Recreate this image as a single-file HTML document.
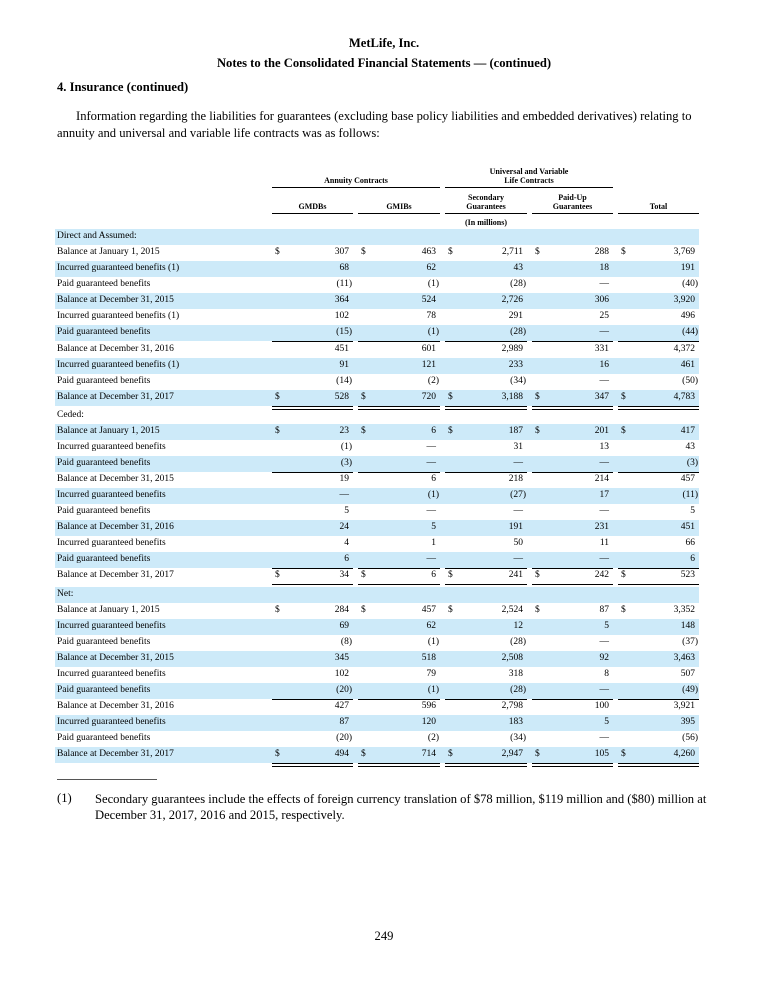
<!DOCTYPE html>
<html><head><meta charset="utf-8">
<style>
body{margin:0;width:768px;height:993px;background:#fff;font-family:"Liberation Serif",serif;color:#000;position:relative;overflow:hidden}
.a{position:absolute;white-space:nowrap}
.b{font-weight:bold}
.t{font-size:9.5px}
.h{font-size:8px;font-weight:bold;text-align:center;line-height:9px}
.ln{position:absolute;height:1px;background:#000}
.row{position:absolute;left:55px;width:644px;height:16px}
</style></head><body>
<div class="a b" style="left:0;width:768px;text-align:center;top:36px;font-size:12.6px">MetLife, Inc.</div>
<div class="a b" style="left:0;width:768px;text-align:center;top:56px;font-size:12.6px">Notes to the Consolidated Financial Statements — (continued)</div>
<div class="a b" style="left:57px;top:80px;font-size:12.6px">4. Insurance (continued)</div>
<div class="a" style="left:57px;top:108px;font-size:12.6px;line-height:16.5px;white-space:normal;width:658px;text-indent:19px">Information regarding the liabilities for guarantees (excluding base policy liabilities and embedded derivatives) relating to annuity and universal and variable life contracts was as follows:</div>

<div id="tbl">
<div class="a h" style="left:272px;width:168px;top:176px">Annuity Contracts</div>
<div class="ln" style="left:272px;width:168px;top:187px"></div>
<div class="a h" style="left:445px;width:168px;top:167px">Universal and Variable<br>Life Contracts</div>
<div class="ln" style="left:445px;width:168px;top:187px"></div>
<div class="a h" style="left:272px;width:81px;top:202px">GMDBs</div>
<div class="a h" style="left:358px;width:82px;top:202px">GMIBs</div>
<div class="a h" style="left:445px;width:82px;top:193px">Secondary<br>Guarantees</div>
<div class="a h" style="left:532px;width:81px;top:193px">Paid-Up<br>Guarantees</div>
<div class="a h" style="left:618px;width:81px;top:202px">Total</div>
<div class="ln" style="left:272px;width:81px;top:213px"></div>
<div class="ln" style="left:358px;width:82px;top:213px"></div>
<div class="ln" style="left:445px;width:82px;top:213px"></div>
<div class="ln" style="left:532px;width:81px;top:213px"></div>
<div class="ln" style="left:618px;width:81px;top:213px"></div>
<div class="a h" style="left:445px;width:82px;top:218px">(In millions)</div>
</div>

<div class="ln" style="left:57px;width:100px;top:779px;background:#555"></div>
<div class="a" style="left:57px;top:791px;font-size:12.6px">(1)</div>
<div class="a" style="left:95px;top:791px;font-size:12.6px;line-height:16px;white-space:normal;width:625px">Secondary guarantees include the effects of foreign currency translation of $78 million, $119 million and ($80) million at December 31, 2017, 2016 and 2015, respectively.</div>
<div class="a" style="left:0;width:768px;text-align:center;top:929px;font-size:12.6px">249</div>

<script>
const labels=["Direct and Assumed:","Balance at January 1, 2015","Incurred guaranteed benefits (1)","Paid guaranteed benefits","Balance at December 31, 2015","Incurred guaranteed benefits (1)","Paid guaranteed benefits","Balance at December 31, 2016","Incurred guaranteed benefits (1)","Paid guaranteed benefits","Balance at December 31, 2017",
"Ceded:","Balance at January 1, 2015","Incurred guaranteed benefits","Paid guaranteed benefits","Balance at December 31, 2015","Incurred guaranteed benefits","Paid guaranteed benefits","Balance at December 31, 2016","Incurred guaranteed benefits","Paid guaranteed benefits","Balance at December 31, 2017",
"Net:","Balance at January 1, 2015","Incurred guaranteed benefits","Paid guaranteed benefits","Balance at December 31, 2015","Incurred guaranteed benefits","Paid guaranteed benefits","Balance at December 31, 2016","Incurred guaranteed benefits","Paid guaranteed benefits","Balance at December 31, 2017"];
const gmdb=[null,"307","68","(11)","364","102","(15)","451","91","(14)","528",null,"23","(1)","(3)","19","—","5","24","4","6","34",null,"284","69","(8)","345","102","(20)","427","87","(20)","494"];
const gmib=[null,"463","62","(1)","524","78","(1)","601","121","(2)","720",null,"6","—","—","6","(1)","—","5","1","—","6",null,"457","62","(1)","518","79","(1)","596","120","(2)","714"];
const secondary=[null,"2,711","43","(28)","2,726","291","(28)","2,989","233","(34)","3,188",null,"187","31","—","218","(27)","—","191","50","—","241",null,"2,524","12","(28)","2,508","318","(28)","2,798","183","(34)","2,947"];
const paidup=[null,"288","18","—","306","25","—","331","16","—","347",null,"201","13","—","214","17","—","231","11","—","242",null,"87","5","—","92","8","—","100","5","—","105"];
const total=[null,"3,769","191","(40)","3,920","496","(44)","4,372","461","(50)","4,783",null,"417","43","(3)","457","(11)","5","451","66","6","523",null,"3,352","148","(37)","3,463","507","(49)","3,921","395","(56)","4,260"];
const cols=[gmdb,gmib,secondary,paidup,total];
const colL=[272,358,445,532,618], colR=[353,440,527,613,699];
const tbl=document.getElementById('tbl');
let y=229;
labels.forEach((lab,i)=>{
  const r=document.createElement('div');
  r.className='row';
  
  
  r.style.top=y+'px';
  if(i%2===0) r.style.background='#cdeaf9';
  tbl.appendChild(r);
  const l=document.createElement('div');
  l.className='a t';
  
  
  l.style.left='57px';l.style.top=(y+2)+'px';
  l.textContent=lab;
  tbl.appendChild(l);
  const isBal=lab.indexOf('Balance')===0;
  const dollar=isBal&&(lab.indexOf('January')>0||lab.indexOf('2017')>0);
  cols.forEach((c,j)=>{
    const v=c[i]; if(v===null) return;
    const d=document.createElement('div');
    d.className='a t';
    
    
    const paren=v.endsWith(')');
    d.style.left=(colL[j]-80)+'px';d.style.width=(colR[j]-colL[j]+80-(paren?1:4))+'px';
    d.style.textAlign='right';d.style.top=(y+2)+'px';
    d.textContent=v;
    tbl.appendChild(d);
    if(dollar){
      const s=document.createElement('div');
      s.className='a t';
      
      
      s.style.left=(colL[j]+3)+'px';s.style.top=(y+2)+'px';
      s.textContent='$';
      tbl.appendChild(s);
    }
    if(lab.indexOf('Paid')===0){
      const u=document.createElement('div');
      u.className='ln';
      
      
      u.style.left=colL[j]+'px';u.style.width=(colR[j]-colL[j])+'px';u.style.top=(y+16)+'px';
      tbl.appendChild(u);
    }
    if(isBal&&lab.indexOf('2017')>0){
      [16,19].forEach(o=>{
        const u=document.createElement('div');
        u.className='ln';
        
        
        u.style.left=colL[j]+'px';u.style.width=(colR[j]-colL[j])+'px';u.style.top=(y+o)+'px';
        tbl.appendChild(u);
      });
    }
  });
  y+=16+((isBal&&lab.indexOf('2017')>0)?2:0)+(i%3===0?0.2:0);
});
</script>
</body></html>
